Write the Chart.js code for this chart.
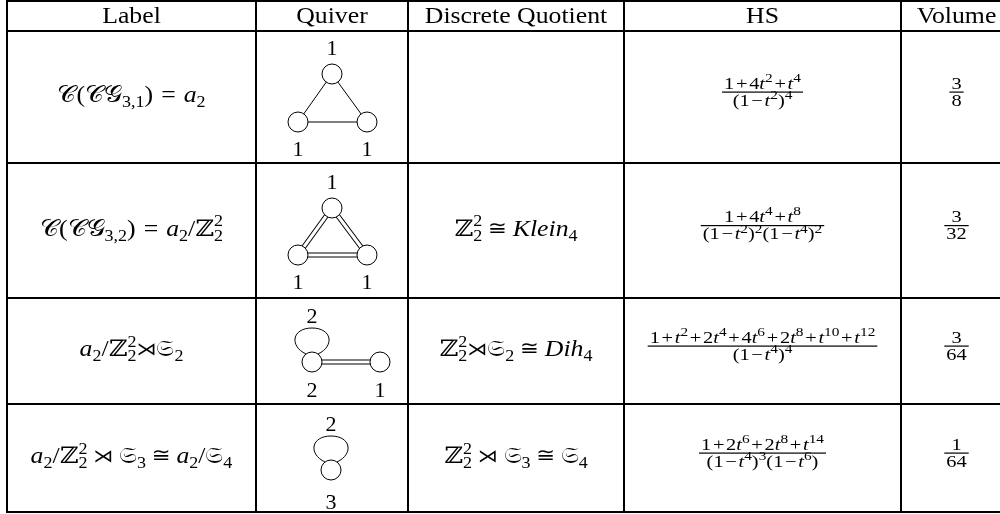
<!DOCTYPE html>
<html>
<head>
<meta charset="utf-8">
<script src="https://cdn.jsdelivr.net/npm/chart.js@4/dist/chart.umd.min.js"></script>
<style>
  html, body { margin: 0; padding: 0; background: #fff; }
  #tabla { display: block; background: #fff; }
</style>
</head>
<body>
<canvas id="tabla" width="1000" height="514"></canvas>
<script>
// Contenido de la tabla
var encabezados = ["Label", "Quiver", "Discrete Quotient", "HS", "Volume"];
var etiquetas = [
  "\\C(\\C\\G_{3,1}) = a_2",
  "\\C(\\C\\G_{3,2}) = a_2/\\Z_2^2",
  "a_2/\\Z_2^2\\rtimes\\S_2",
  "a_2/\\Z_2^2 \\rtimes \\S_3 \\cong a_2/\\S_4"
];
var cocientes = ["", "\\Z_2^2 \\cong Klein_4", "\\Z_2^2\\rtimes\\S_2 \\cong Dih_4", "\\Z_2^2 \\rtimes \\S_3 \\cong \\S_4"];
var hsNumerador = ["1+4t^2+t^4", "1+4t^4+t^8", "1+t^2+2t^4+4t^6+2t^8+t^{10}+t^{12}", "1+2t^6+2t^8+t^{14}"];
var hsDenominador = ["(1-t^2)^4", "(1-t^2)^2(1-t^4)^2", "(1-t^4)^4", "(1-t^4)^3(1-t^6)"];
var volNumerador = ["3", "3", "3", "1"];
var volDenominador = ["8", "32", "64", "64"];

// Quivers: nodos, rangos, aristas [a, b, multiplicidad] y lazos
var nodoX = [[332, 298, 367], [332, 298, 367], [312, 380], [331]];
var nodoY = [[74, 122, 122], [208, 255, 255], [362, 362], [470]];
var rangos = [["1", "1", "1"], ["1", "1", "1"], ["2", "1"], ["3"]];
var rangoArriba = [[true, false, false], [true, false, false], [false, false], [false]];
var aristas = [[[0, 1, 1], [1, 2, 1], [0, 2, 1]], [[0, 1, 2], [1, 2, 2], [0, 2, 2]], [[0, 1, 2]], []];
var lazos = [[], [], [0], [0]];
var lazoRango = [[], [], ["2"], ["2"]];
var rangoSep = [27, 27, 28, 32];

// Rejilla de la tabla
var columnas = [7, 256, 408, 624, 901, 1012];
var filas = [1, 31, 163, 298, 404, 512];

var FUENTE = "'Liberation Serif', 'DejaVu Serif', serif";
var FUENTE_SIM = "'DejaVu Serif', 'DejaVu Sans', serif";
var ESTIRA = 1.12;
var SIMBOLOS = { "\\C": "\u{1D49E}", "\\G": "\u{1D4A2}", "\\Z": "\u2124", "\\S": "\u{1D516}", "\\rtimes": "\u22CA", "\\cong": "\u2245" };
var ESCALA_SIM = { "\\rtimes": 0.78, "\\cong": 0.88 };

function tokens(s) {
  var out = [], i = 0;
  while (i < s.length) {
    var c = s[i];
    if (c === "\\") {
      var m = s.slice(i).match(/^\\[a-zA-Z]+/)[0];
      out.push({ k: "sym", v: m }); i += m.length;
    } else if (c === "_" || c === "^") {
      var body;
      if (s[i + 1] === "{") { var j = s.indexOf("}", i + 2); body = s.slice(i + 2, j); i = j + 1; }
      else { body = s[i + 1]; i += 2; }
      out.push({ k: c, v: body });
    } else { out.push({ k: "ch", v: c }); i++; }
  }
  return out;
}

// arma una formula: lista de glifos con su posicion relativa a la linea base
function armar(ctx, s, size, est, ratio) {
  var items = [], x = 0, prev = null;
  tokens(s).forEach(function (t) {
    if (t.k === "_" || t.k === "^") {
      var sub = armar(ctx, t.v, size * ratio, est, ratio);
      var x0 = x;
      if (prev && prev.k !== t.k) x0 = prev.x;
      var dy = t.k === "_" ? size * 0.22 : -size * 0.4;
      sub.items.forEach(function (it) { items.push({ text: it.text, font: it.font, x: x0 + it.x, dy: dy + it.dy }); });
      x = Math.max(x, x0 + sub.width);
      prev = (prev && prev.k !== t.k) ? null : { k: t.k, x: x0 };
      return;
    }
    prev = null;
    var text, font, dy = 0, lado = 0;
    if (t.k === "sym") {
      var e = ESCALA_SIM[t.v] || 1;
      text = SIMBOLOS[t.v];
      font = (size * e).toFixed(1) + "px " + (e < 1 ? "'DejaVu Sans'" : FUENTE_SIM);
      dy = -(1 - e) * size * 0.25;
    }
    else if (t.v === " ") { x += size * 0.25; return; }
    else if (/[A-Za-z]/.test(t.v)) { text = t.v; font = "italic " + size.toFixed(1) + "px " + FUENTE; }
    else {
      text = t.v === "-" ? "\u2212" : t.v;
      font = size.toFixed(1) + "px " + FUENTE;
      if (text === "+" || text === "\u2212" || text === "=") lado = size * 0.1;
    }
    ctx.font = font;
    x += lado;
    items.push({ text: text, font: font, x: x, dy: dy });
    x += ctx.measureText(text).width * est + lado;
  });
  return { items: items, width: x, est: est };
}

function pintar(ctx, caja, x0, base) {
  caja.items.forEach(function (it) {
    ctx.font = it.font;
    ctx.save();
    ctx.translate(x0 + it.x, base + it.dy);
    ctx.scale(caja.est, 1);
    ctx.fillText(it.text, 0, 0);
    ctx.restore();
  });
}

function formula(ctx, s, size, cx, base) {
  var caja = armar(ctx, s, size, ESTIRA, 0.7);
  pintar(ctx, caja, cx - caja.width / 2, base);
}

function fraccion(ctx, num, den, size, cx, eje) {
  var a = armar(ctx, num, size, 1.2, 0.75), b = armar(ctx, den, size, 1.2, 0.75);
  var w = Math.max(a.width, b.width) + 4;
  ctx.fillRect(cx - w / 2, eje - 0.5, w, 1.2);
  pintar(ctx, a, cx - a.width / 2, eje - 3.5);
  pintar(ctx, b, cx - b.width / 2, eje + 0.82 * size);
}

// Datasets: aristas (simples y dobles) y nodos
var datasets = [];
var puntos = [];
nodoX.forEach(function (xs, q) {
  xs.forEach(function (x, n) { puntos.push({ x: x, y: nodoY[q][n] }); });
  aristas[q].forEach(function (e) {
    var tramo = [{ x: xs[e[0]], y: nodoY[q][e[0]] }, { x: xs[e[1]], y: nodoY[q][e[1]] }];
    datasets.push({ type: "line", data: tramo, borderColor: "#000", borderWidth: e[2] === 2 ? 5 : 1, pointRadius: 0, order: 2 });
    if (e[2] === 2) {
      datasets.push({ type: "line", data: tramo, borderColor: "#fff", borderWidth: 3, pointRadius: 0, order: 1 });
    }
  });
});
datasets.push({ type: "scatter", data: puntos, pointRadius: 10, pointBorderWidth: 1, pointBackgroundColor: "#fff", pointBorderColor: "#000", order: 0 });

var tablaPlugin = {
  id: "tabla",
  beforeDatasetsDraw: function (chart) {
    var ctx = chart.ctx, sx = chart.scales.x, sy = chart.scales.y;
    ctx.save();
    ctx.strokeStyle = "#000";
    ctx.lineWidth = 2;
    // lineas de la tabla
    filas.forEach(function (f) {
      ctx.beginPath();
      ctx.moveTo(sx.getPixelForValue(columnas[0]) - 1, sy.getPixelForValue(f));
      ctx.lineTo(sx.getPixelForValue(columnas[columnas.length - 1]) + 1, sy.getPixelForValue(f));
      ctx.stroke();
    });
    columnas.forEach(function (c) {
      ctx.beginPath();
      ctx.moveTo(sx.getPixelForValue(c), sy.getPixelForValue(filas[0]));
      ctx.lineTo(sx.getPixelForValue(c), sy.getPixelForValue(filas[filas.length - 1]));
      ctx.stroke();
    });
    // lazos sobre el nodo
    ctx.lineWidth = 1;
    lazos.forEach(function (ls, q) {
      ls.forEach(function (n) {
        var px = sx.getPixelForValue(nodoX[q][n]), py = sy.getPixelForValue(nodoY[q][n]);
        ctx.beginPath();
        ctx.moveTo(px - 6, py - 8);
        ctx.bezierCurveTo(px - 23, py - 16, px - 20, py - 34, px, py - 34);
        ctx.bezierCurveTo(px + 20, py - 34, px + 23, py - 16, px + 6, py - 8);
        ctx.stroke();
      });
    });
    ctx.restore();
  },
  afterDraw: function (chart) {
    var ctx = chart.ctx, sx = chart.scales.x, sy = chart.scales.y;
    ctx.save();
    ctx.fillStyle = "#000";
    ctx.textAlign = "left";
    ctx.textBaseline = "alphabetic";
    var centro = function (i) { return sx.getPixelForValue((columnas[i] + columnas[i + 1]) / 2); };
    // encabezados
    encabezados.forEach(function (h, i) {
      ctx.font = "23px " + FUENTE;
      var w = ctx.measureText(h).width * ESTIRA;
      ctx.save();
      ctx.translate(centro(i) - w / 2, sy.getPixelForValue(23));
      ctx.scale(ESTIRA, 1);
      ctx.fillText(h, 0, 0);
      ctx.restore();
    });
    // filas
    etiquetas.forEach(function (et, r) {
      var mid = sy.getPixelForValue((filas[r + 1] + filas[r + 2]) / 2);
      formula(ctx, et, 23, centro(0), mid + 5);
      if (cocientes[r]) formula(ctx, cocientes[r], 23, centro(2), mid + 5);
      fraccion(ctx, hsNumerador[r], hsDenominador[r], 17, centro(3), mid - 5);
      fraccion(ctx, volNumerador[r], volDenominador[r], 17, centro(4), mid - 5);
    });
    // rangos de los nodos
    ctx.font = "22px " + FUENTE;
    ctx.textAlign = "center";
    nodoX.forEach(function (xs, q) {
      xs.forEach(function (x, n) {
        var y = nodoY[q][n] + (rangoArriba[q][n] ? -26 : rangoSep[q]);
        ctx.fillText(rangos[q][n], sx.getPixelForValue(x), sy.getPixelForValue(y) + 7);
      });
      lazos[q].forEach(function (n, k) {
        ctx.fillText(lazoRango[q][k], sx.getPixelForValue(xs[n]), sy.getPixelForValue(nodoY[q][n] - 46) + 7);
      });
    });
    ctx.restore();
  }
};

var grafTabla = new Chart(document.getElementById("tabla").getContext("2d"), {
  type: "scatter",
  data: { datasets: datasets },
  options: {
    responsive: false,
    animation: false,
    devicePixelRatio: 1,
    layout: { padding: 0, autoPadding: false },
    scales: {
      x: { type: "linear", min: 0, max: 1000, display: false },
      y: { type: "linear", min: 0, max: 514, reverse: true, display: false }
    },
    plugins: { legend: { display: false }, tooltip: { enabled: false } },
    events: []
  },
  plugins: [tablaPlugin]
});
</script>
</body>
</html>
